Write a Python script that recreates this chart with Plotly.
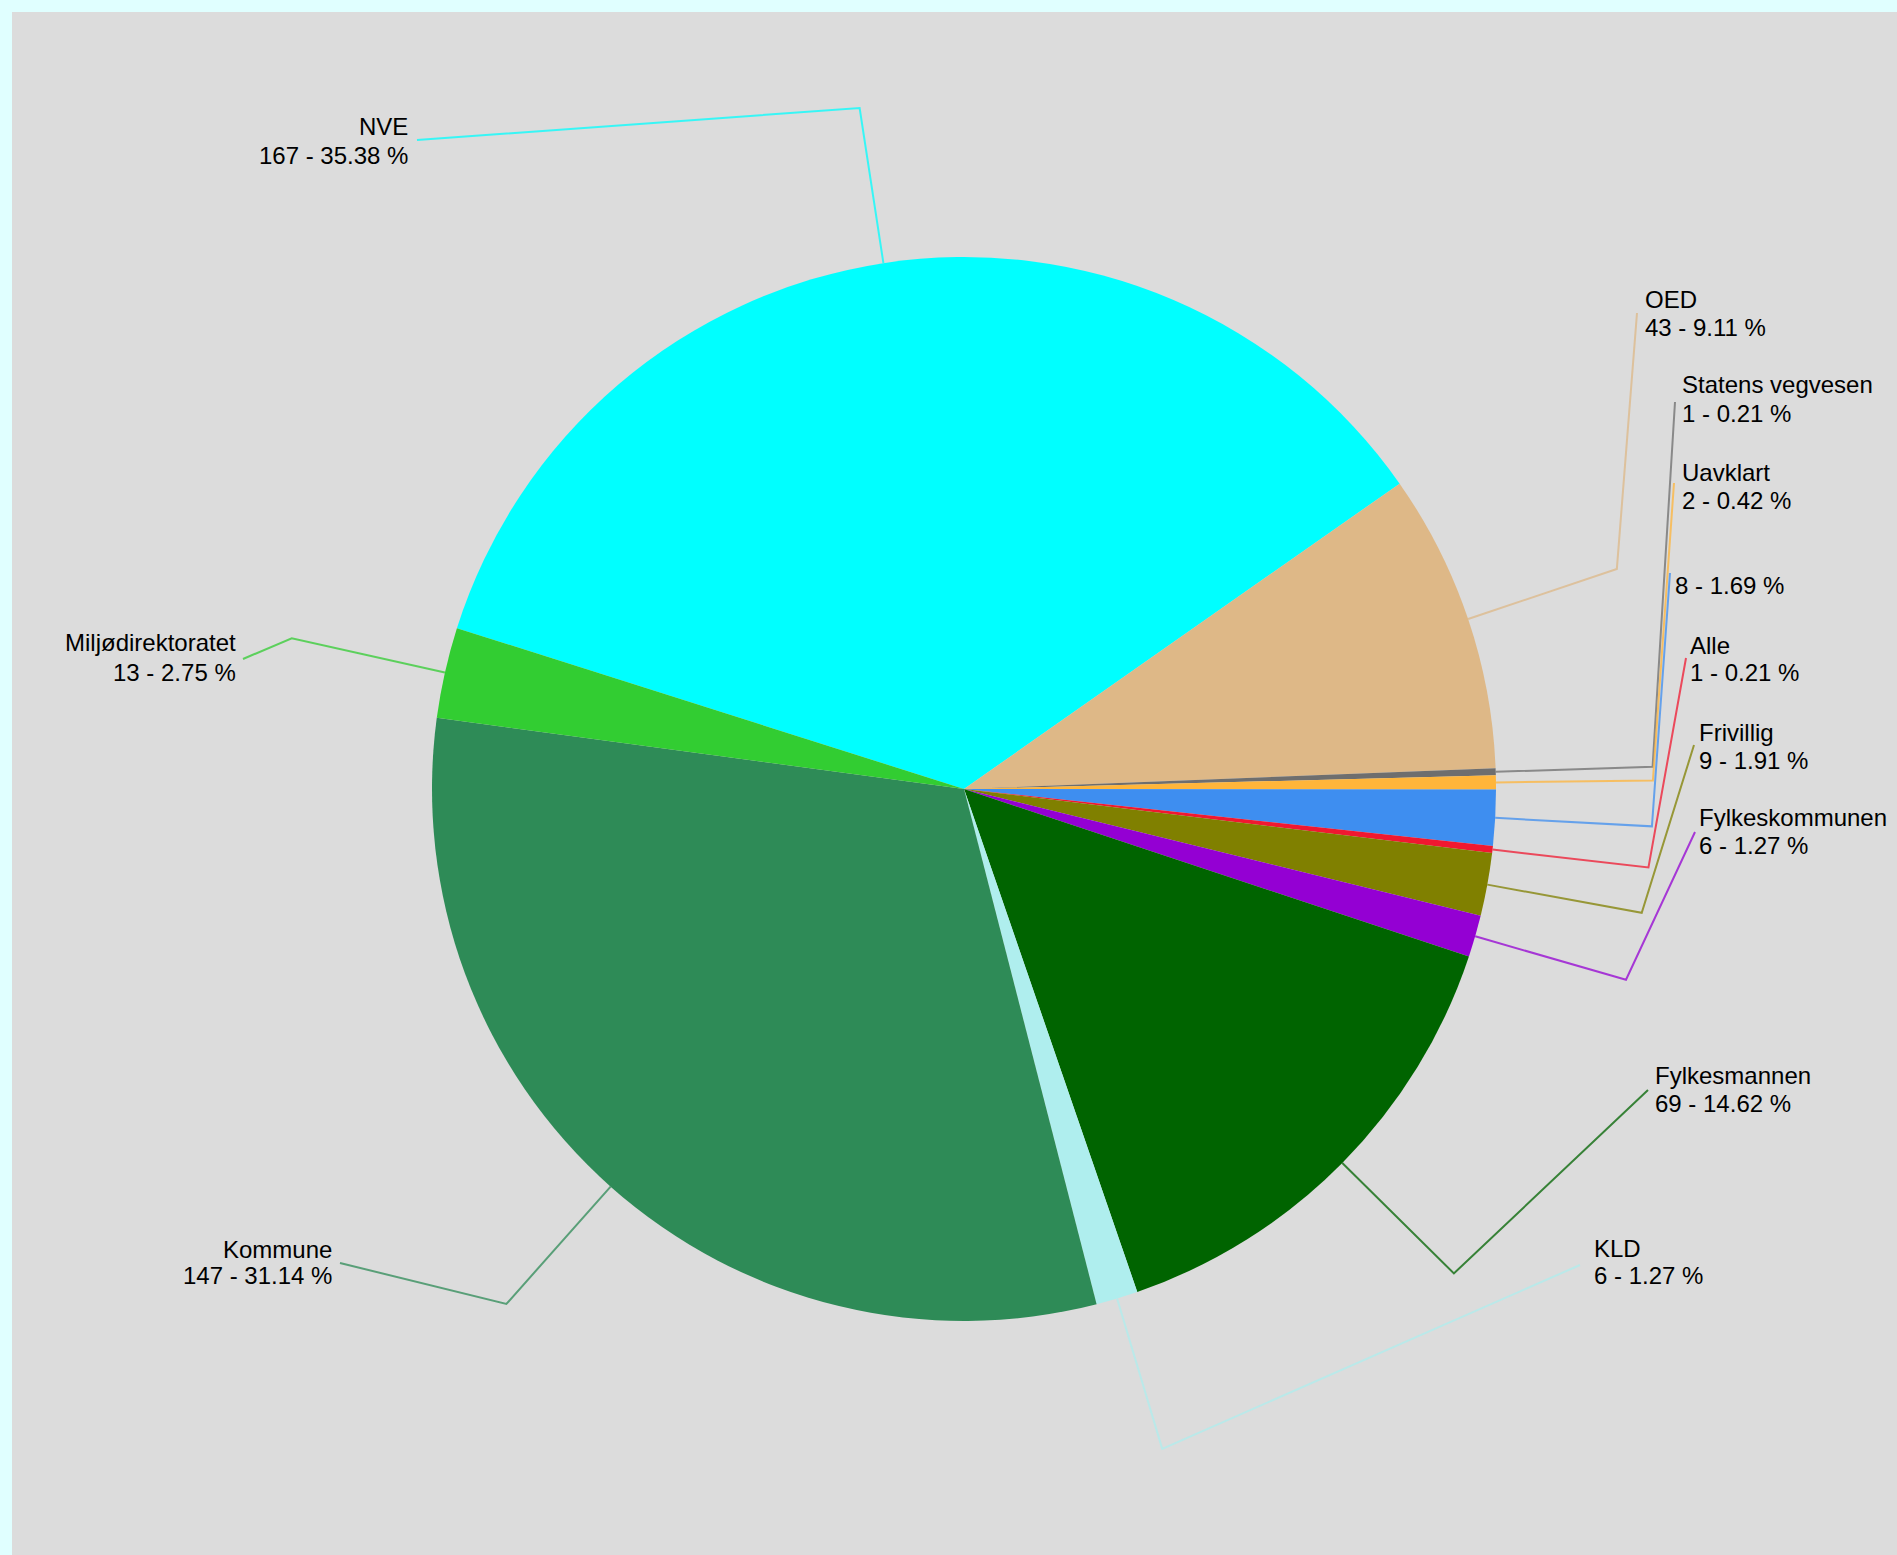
import math
import plotly.graph_objects as go

# ---- data ----
categories = ["NVE", "OED", "Statens vegvesen", "Uavklart", "", "Alle", "Frivillig",
              "Fylkeskommunen", "Fylkesmannen", "KLD", "Kommune", "Miljødirektoratet"]
values = [167, 43, 1, 2, 8, 1, 9, 6, 69, 6, 147, 13]
pct_labels = ["35.38", "9.11", "0.21", "0.42", "1.69", "0.21", "1.91",
              "1.27", "14.62", "1.27", "31.14", "2.75"]

# ---- styles / layout ----
colors = ["#00ffff", "#deb887", "#6e6e6e", "#ffb53a", "#3e8ef0", "#f01830", "#808000",
          "#9400d3", "#006400", "#afeeee", "#2e8b57", "#32cd32"]

W, H = 1897, 1555
CX, CY, R = 964, 789, 532          # pie centre / radius in px
ROTATION = -72.4                   # start of first slice, degrees clockwise from 12 o'clock
ELBOW = 1.295                      # elbow radius factor for leader lines
FONT = dict(family="Arial, Liberation Sans, sans-serif", size=24, color="black")

# label placement (px): side, anchor x, line1 y, line2 y, leader end x, leader end y
label_pos = [
    ("right", 410, 127, 155, 417, 140),
    ("left", 1643, 299, 327, 1637, 313),
    ("left", 1680, 385, 413, 1675, 402),
    ("left", 1680, 472, 500, 1674, 483),
    ("left", 1673, 557, 585, 1670, 573),
    ("left", 1688, 645, 672, 1686, 658),
    ("left", 1697, 732, 760, 1694, 745),
    ("left", 1697, 817, 845, 1695, 832),
    ("left", 1653, 1075, 1103, 1648, 1090),
    ("left", 1592, 1248, 1275, 1580, 1265),
    ("right", 334, 1249, 1275, 340, 1263),
    ("right", 238, 643, 672, 243, 659),
]


def px(x):
    return x / W


def py(y):
    return 1 - y / H


fig = go.Figure()
fig.add_trace(go.Pie(
    labels=[c if c else " " for c in categories],
    values=values,
    sort=False,
    direction="clockwise",
    rotation=ROTATION,
    marker=dict(colors=colors, line=dict(width=0)),
    textinfo="none",
    hoverinfo="label+value+percent",
    showlegend=False,
    domain=dict(x=[px(CX - R), px(CX + R)], y=[py(CY + R), py(CY - R)]),
))

total = sum(values)
shapes = []
annotations = []
cum = 0
for i, v in enumerate(values):
    mid = math.radians(ROTATION + 360.0 * (cum + v / 2.0) / total)
    cum += v
    ex, ey = CX + R * math.sin(mid), CY - R * math.cos(mid)
    bx, by = CX + R * ELBOW * math.sin(mid), CY - R * ELBOW * math.cos(mid)
    side, ax, y1, y2, lx, ly = label_pos[i]
    path = f"M {px(ex)},{py(ey)} L {px(bx)},{py(by)} L {px(lx)},{py(ly)}"
    shapes.append(dict(type="path", path=path, xref="paper", yref="paper",
                       opacity=0.75, line=dict(color=colors[i], width=2)))
    if categories[i]:
        annotations.append(dict(x=px(ax), y=py(y1), xref="paper", yref="paper",
                                text=categories[i], showarrow=False, xanchor=side,
                                yanchor="middle", font=FONT))
    annotations.append(dict(x=px(ax), y=py(y2), xref="paper", yref="paper",
                            text=f"{values[i]} - {pct_labels[i]} %", showarrow=False,
                            xanchor=side, yanchor="middle", font=FONT))

# light cyan frame strips (top and left)
shapes.append(dict(type="rect", xref="paper", yref="paper", x0=0, x1=1, y0=py(12), y1=1,
                   fillcolor="#e0ffff", line=dict(width=0), layer="below"))
shapes.append(dict(type="rect", xref="paper", yref="paper", x0=0, x1=px(12), y0=0, y1=1,
                   fillcolor="#e0ffff", line=dict(width=0), layer="below"))

fig.update_layout(
    width=W, height=H,
    margin=dict(l=0, r=0, t=0, b=0),
    paper_bgcolor="#dcdcdc",
    plot_bgcolor="#dcdcdc",
    shapes=shapes,
    annotations=annotations,
)

fig.write_html("out.html",
               config={"displayModeBar": False},
               post_script="document.body.style.margin='0';document.body.style.overflow='hidden';")
